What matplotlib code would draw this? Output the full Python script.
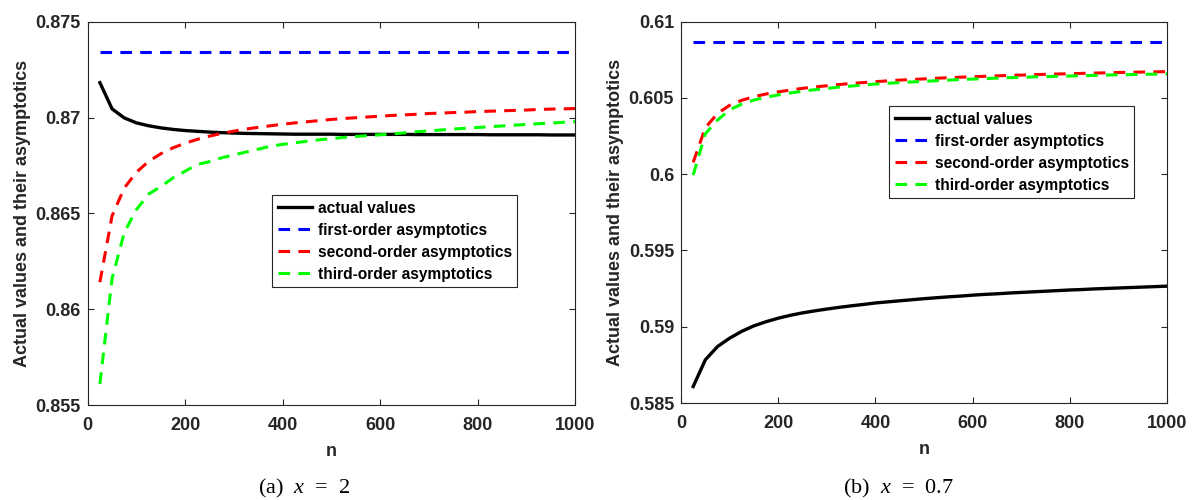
import numpy as np
import matplotlib
matplotlib.use("Agg")
import matplotlib.pyplot as plt

plt.rcParams['font.family'] = ['Liberation Sans', 'DejaVu Sans']
plt.rcParams['font.weight'] = 'bold'
plt.rcParams['mathtext.fontset'] = 'custom'
plt.rcParams['mathtext.it'] = 'Liberation Serif:style=italic:weight=normal'
plt.rcParams['mathtext.rm'] = 'Liberation Serif:weight=normal'

n = list(range(25, 1001, 25))

# x = 2
actual_a = [0.87182, 0.87045, 0.86998, 0.86972, 0.86957, 0.86946, 0.86938, 0.86932,
            0.86928, 0.86924, 0.86921, 0.86919, 0.86917, 0.86916, 0.86915, 0.86914,
            0.86913, 0.86913, 0.86913, 0.86913, 0.86912, 0.86912, 0.86912, 0.86912,
            0.86912, 0.86912, 0.86911, 0.86911, 0.86911, 0.86911, 0.86911, 0.86911,
            0.86910, 0.86910, 0.86910, 0.86910, 0.86910, 0.86909, 0.86909, 0.86909]
first_a = [0.87344] * 40
second_a = [0.86141, 0.86487, 0.86632, 0.86715, 0.86771, 0.86811, 0.86842, 0.86866,
            0.86886, 0.86903, 0.86917, 0.86929, 0.86940, 0.86949, 0.86957, 0.86965,
            0.86972, 0.86978, 0.86984, 0.86990, 0.86995, 0.86999, 0.87003, 0.87007,
            0.87011, 0.87014, 0.87017, 0.87021, 0.87023, 0.87026, 0.87028, 0.87031,
            0.87033, 0.87035, 0.87037, 0.87039, 0.87042, 0.87044, 0.87045, 0.87047]
third_a = [0.85610, 0.86160, 0.86400, 0.86520, 0.86600, 0.86640, 0.86685, 0.86720,
           0.86755, 0.86770, 0.86790, 0.86805, 0.86820, 0.86835, 0.86850, 0.86860,
           0.86868, 0.86876, 0.86884, 0.86890, 0.86896, 0.86901, 0.86906, 0.86910,
           0.86915, 0.86920, 0.86926, 0.86930, 0.86935, 0.86940, 0.86944, 0.86948,
           0.86952, 0.86956, 0.86960, 0.86964, 0.86968, 0.86971, 0.86975, 0.86978]

# x = 0.7
actual_b = [0.58608, 0.58783, 0.58870, 0.58925, 0.58970, 0.59006, 0.59033, 0.59056,
            0.59075, 0.59091, 0.59104, 0.59116, 0.59127, 0.59137, 0.59146, 0.59156,
            0.59163, 0.59170, 0.59177, 0.59184, 0.59190, 0.59196, 0.59201, 0.59207,
            0.59212, 0.59216, 0.59221, 0.59225, 0.59229, 0.59233, 0.59237, 0.59241,
            0.59244, 0.59248, 0.59251, 0.59254, 0.59257, 0.59260, 0.59263, 0.59266]
first_b = [0.60870] * 40
second_b = [0.60078, 0.60305, 0.60398, 0.60452, 0.60485, 0.60508, 0.60526, 0.60540,
            0.60552, 0.60563, 0.60572, 0.60580, 0.60588, 0.60595, 0.60601, 0.60607,
            0.60612, 0.60617, 0.60621, 0.60625, 0.60629, 0.60633, 0.60636, 0.60639,
            0.60642, 0.60645, 0.60648, 0.60650, 0.60653, 0.60655, 0.60657, 0.60659,
            0.60661, 0.60663, 0.60665, 0.60667, 0.60668, 0.60670, 0.60671, 0.60673]
third_b = [0.59995, 0.60265, 0.60355, 0.60422, 0.60460, 0.60486, 0.60505, 0.60520,
           0.60533, 0.60544, 0.60554, 0.60562, 0.60571, 0.60578, 0.60585, 0.60591,
           0.60596, 0.60601, 0.60605, 0.60609, 0.60613, 0.60617, 0.60621, 0.60624,
           0.60627, 0.60630, 0.60633, 0.60635, 0.60638, 0.60640, 0.60642, 0.60644,
           0.60646, 0.60648, 0.60650, 0.60652, 0.60653, 0.60655, 0.60656, 0.60658]

labels = ['actual values', 'first-order asymptotics',
          'second-order asymptotics', 'third-order asymptotics']
xticks = [0, 200, 400, 600, 800, 1000]
yticks_a = [0.855, 0.86, 0.865, 0.87, 0.875]
yticks_b = [0.585, 0.59, 0.595, 0.6, 0.605, 0.61]
captions = [r'(a)  $x$  =  2', r'(b)  $x$  =  0.7']

fig = plt.figure(figsize=(11.95, 5.0), dpi=100)
ax1 = fig.add_axes([0.0734, 0.19, 0.4078, 0.7666])
ax2 = fig.add_axes([0.5699, 0.194, 0.4067, 0.7626])

dark = '#262626'
dash = (3.8, 2.7)

def draw(ax, actual, first, second, third, yticks, leg_anchor):
    ax.plot(n, actual, color='k', lw=2.4, label=labels[0])
    ax.plot(n, first, color='#0000ff', lw=2.2, ls=(0, dash), label=labels[1])
    ax.plot(n, second, color='#ff0000', lw=2.2, ls=(0, dash), label=labels[2])
    ax.plot(n, third, color='#00ff00', lw=2.2, ls=(0, dash), label=labels[3])
    ax.set_xlim(0, 1000)
    ax.set_ylim(yticks[0], yticks[-1])
    ax.set_xticks(xticks)
    ax.set_xticklabels([str(t) for t in xticks])
    ax.set_yticks(yticks)
    ax.set_yticklabels(['%g' % t for t in yticks])
    ax.tick_params(direction='in', length=4.5, width=0.8, colors=dark,
                   labelsize=13, top=True, right=True)
    ax.tick_params(axis='x', pad=9)
    ax.tick_params(axis='y', pad=5)
    for s in ax.spines.values():
        s.set_color(dark)
        s.set_linewidth(0.8)
    ax.set_xlabel('n', fontsize=13, fontweight='bold', color=dark, labelpad=6)
    ax.set_ylabel('Actual values and their asymptotics', fontsize=13,
                  fontweight='bold', color=dark, labelpad=3.5)
    leg = ax.legend(loc='upper left', bbox_to_anchor=leg_anchor, borderaxespad=0,
                    fontsize=11.2, handlelength=2.2, handletextpad=0.35,
                    labelspacing=0.45, borderpad=0.36, fancybox=False, framealpha=1)
    leg.get_frame().set_edgecolor(dark)
    leg.get_frame().set_linewidth(0.8)

draw(ax1, actual_a, first_a, second_a, third_a, yticks_a, (0.379, 0.548))
draw(ax2, actual_b, first_b, second_b, third_b, yticks_b, (0.4286, 0.779))

fig.text(304 / 1195, 0.024, captions[0], fontsize=16, ha='center', va='center',
         family='Liberation Serif', weight='normal')
fig.text(898 / 1195, 0.024, captions[1], fontsize=16, ha='center', va='center',
         family='Liberation Serif', weight='normal')

fig.savefig('out.png', dpi=100)
